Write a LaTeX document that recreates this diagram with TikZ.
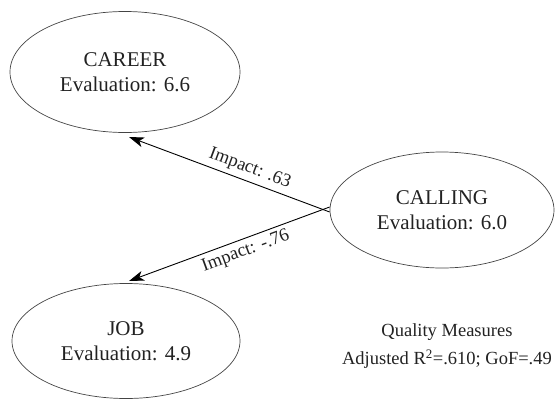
\documentclass[tikz,border=0pt]{standalone}
\usepackage{fontspec}
\setmainfont{Liberation Serif}
\usetikzlibrary{shapes.geometric,arrows.meta}
\definecolor{ink}{HTML}{222222}
\definecolor{rim}{HTML}{444444}
\tikzset{
  construct/.style={ellipse, draw=rim, line width=0.7pt, inner sep=0pt,
    text=ink, align=center, font=\fontsize{21}{24.5}\selectfont},
  effect/.style={draw=black, line width=0.9pt,
    -{Stealth[length=15pt, width=10pt, inset=4pt]}},
  impact/.style={text=ink, font=\fontsize{18.5}{21}\selectfont, sloped, inner sep=4pt},
  note/.style={text=ink, align=center, font=\fontsize{18.5}{28}\selectfont}
}
\begin{document}
\begin{tikzpicture}[x=1pt, y=-1pt]
  \useasboundingbox (0,0) rectangle (555,400);

  \node[construct, minimum width=230pt, minimum height=121pt] (career) at (125,72)
    {CAREER\\Evaluation: 6.6};
  \node[construct, minimum width=224pt, minimum height=116pt] (calling) at (442,210)
    {CALLING\\Evaluation: 6.0};
  \node[construct, minimum width=228pt, minimum height=115pt] (job) at (126,341)
    {JOB\\Evaluation: 4.9};

  \coordinate (career-in) at (129,137);
  \coordinate (job-in) at (129,281);

  \draw[effect] ([yshift=-2pt]calling.west) -- node[impact, pos=0.42, above] {Impact: .63} (career-in);
  \draw[effect] ([yshift=3pt]calling.west) -- node[impact, pos=0.44, below] {Impact: -.76} (job-in);

  \node[note] (quality) at (447,346)
    {Quality Measures\\Adjusted R\textsuperscript{2}=.610; GoF=.49};
\end{tikzpicture}
\end{document}
